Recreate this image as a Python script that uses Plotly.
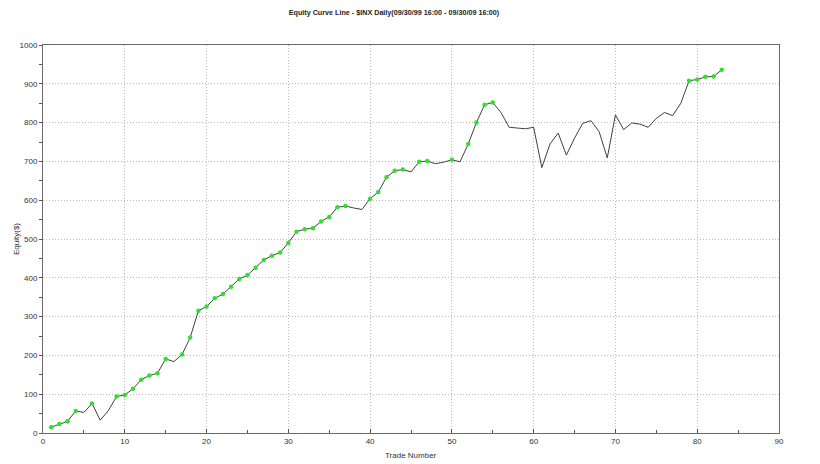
import plotly.graph_objects as go

trade_numbers = list(range(1, 84))
equity = [15, 23, 30, 57, 53, 76, 33, 58, 94, 98,
          114, 137, 148, 154, 191, 184, 202, 246, 315, 326,
          347, 358, 377, 397, 407, 426, 446, 457, 465, 490,
          519, 525, 528, 545, 557, 582, 585, 580, 576, 604,
          621, 659, 676, 679, 673, 699, 701, 694, 698, 704,
          699, 745, 800, 846, 852, 826, 788, 786, 784, 788,
          684, 745, 773, 716, 760, 798, 805, 777, 709, 820,
          782, 799, 796, 788, 811, 826, 818, 850, 908, 911,
          918, 919, 936]
# trades that set a new equity high (shown with green markers)
new_high_trades = [1, 2, 3, 4, 6, 9, 10, 11, 12, 13, 14, 15, 17, 18, 19, 20,
                   21, 22, 23, 24, 25, 26, 27, 28, 29, 30, 31, 32, 33, 34, 35,
                   36, 37, 40, 41, 42, 43, 44, 46, 47, 50, 52, 53, 54, 55,
                   79, 80, 81, 82, 83]
high_values = [equity[t - 1] for t in new_high_trades]

x_ticks = list(range(0, 91, 10))
y_ticks = list(range(0, 1001, 100))

fig = go.Figure()
fig.add_trace(go.Scatter(x=trade_numbers, y=equity, mode="lines",
                         line=dict(color="#404040", width=1), hoverinfo="x+y"))
fig.add_trace(go.Scatter(x=new_high_trades, y=high_values, mode="markers",
                         marker=dict(color="#33dd33", size=4.5), hoverinfo="x+y"))

W, H = 812, 456
L, R, T, B = 35, 41, 37, 31
grid = dict(showgrid=True, gridcolor="#b8b8b8", griddash="1px,2px", gridwidth=1)
fig.update_layout(
    width=W, height=H,
    margin=dict(l=L, r=R, t=T, b=B),
    paper_bgcolor="white", plot_bgcolor="white",
    showlegend=False,
    font=dict(family="Liberation Sans, Arial", size=8, color="#333333"),
    title=dict(text="<b>Equity Curve Line - $INX Daily(09/30/99 16:00 - 09/30/09 16:00)</b>",
               x=386 / W, xanchor="center", yref="container", y=1 - 4 / H, yanchor="middle",
               font=dict(size=7.2, color="#222222", family="Liberation Sans, Arial")),
    xaxis=dict(range=[0, 90], tickvals=x_ticks, ticktext=[str(v) for v in x_ticks],
               ticks="inside", ticklen=4, tickcolor="#555555",
               minor=dict(dtick=5, ticks="inside", ticklen=3, tickcolor="#555555", showgrid=False),
               showline=True, linecolor="#6a6a6a", linewidth=1, mirror=True,
               zeroline=False, automargin=False, **grid),
    yaxis=dict(range=[0, 1000], tickvals=y_ticks, ticktext=[str(v) for v in y_ticks],
               ticks="outside", ticklen=3, tickcolor="#555555",
               minor=dict(dtick=50, ticks="outside", ticklen=3, tickcolor="#555555", showgrid=False),
               showline=True, linecolor="#6a6a6a", linewidth=1, mirror=True,
               zeroline=False, automargin=False, **grid),
    annotations=[
        dict(text="Trade Number", xref="paper", yref="paper",
             x=(403 - L) / (W - L - R), y=(H - B - 447) / (H - T - B),
             xanchor="center", yanchor="middle",
             showarrow=False, font=dict(size=8, color="#333333")),
        dict(text="Equity($)", xref="paper", yref="paper", textangle=-90,
             x=(8 - L) / (W - L - R), y=0.5, xanchor="center", yanchor="middle",
             showarrow=False, font=dict(size=8, color="#333333")),
    ],
)
fig.write_html("out.html")
